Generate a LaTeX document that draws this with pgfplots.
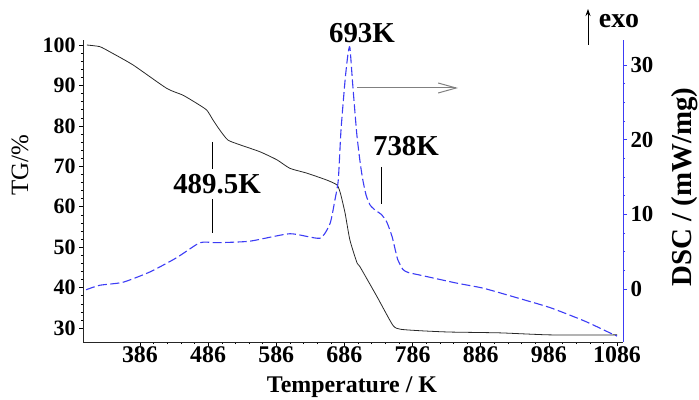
\documentclass[border=0pt]{standalone}
\usepackage{fontspec}
\setmainfont{Liberation Serif}
\usepackage{pgfplots}
\pgfplotsset{compat=1.18}
\usetikzlibrary{arrows.meta}
\definecolor{dscblue}{RGB}{60,60,245}
\definecolor{tgline}{RGB}{40,40,40}
\begin{document}
\begin{tikzpicture}
\path[use as bounding box] (0bp,0bp) rectangle (699bp,400bp);
\begin{axis}[at={(83bp,58bp)}, anchor=south west, scale only axis,
  width=540bp, height=302bp,
  xmin=302.4, xmax=1094.8, ymin=26.54, ymax=101.24,
  axis x line*=bottom, axis y line*=left,
  xtick={386,486,...,1086}, ytick={30,40,...,100},
  minor x tick num=4, minor y tick num=4,
  tick align=outside, major tick length=4bp, minor tick length=2bp,
  /pgf/number format/assume math mode=true,
  /pgf/number format/set thousands separator={},
  xticklabel style={font=\fontsize{24}{24}\selectfont\bfseries, yshift=3bp},
  yticklabel style={font=\fontsize{22}{22}\selectfont\bfseries},
  axis line style={black!85, line width=0.8pt},
  every tick/.style={black, line width=0.5pt},
]
\addplot[tgline, line width=0.8pt, smooth, tension=0.35] coordinates {
(308,100) (327,99.6) (342,98.3) (376,95.05) (425,89.3) (449,87.6) (469,85.6)
(484,83.9) (493,81.5) (503,79) (515,76.5) (533,75.3) (562,73.6) (587,71.6)
(606,69.5) (631,68.3) (660,66.6) (675,65.4) (680,63.4) (687,58.4) (694,51.8)
(704.5,46.1) (709,45.1) (734,37.7) (757,30.7) (768,29.7) (800,29.3) (841,29.0)
(914,28.8) (988,28.3) (1086,28.3)
};
\end{axis}
\begin{axis}[at={(83bp,58bp)}, anchor=south west, scale only axis,
  width=540bp, height=302bp,
  xmin=302.4, xmax=1094.8, ymin=-7.10, ymax=33.35,
  axis x line=none, axis y line*=right,
  ytick={0,10,20,30}, minor y tick num=3,
  tick align=outside, major tick length=4bp, minor tick length=2bp,
  /pgf/number format/assume math mode=true,
  yticklabel style={font=\fontsize{23}{23}\selectfont\bfseries, black},
  y axis line style={dscblue, line width=0.8pt},
  every tick/.style={dscblue, line width=0.5pt},
]
\addplot[dscblue, line width=1.1pt, dash pattern=on 9bp off 3.5bp, smooth, tension=0.35] coordinates {
(307,-0.1) (327,0.5) (361,0.9) (401,2.3) (440,4.2) (474,6.2) (499,6.2)
(547,6.4) (606,7.4) (650,6.8) (665,8.8) (672,11.9) (677,14.6) (681,21.3)
(687,28) (691,31.3) (694,32.4) (698,27.6) (704,20.9) (709,17) (713,14.6)
(718,12.5) (724,11.2) (732,10.5) (740,10) (748,9) (756,7) (764,4) (772,2.6)
(780,2.2) (800,1.8) (850,0.8) (890,0.1) (940,-1.2) (988,-2.5) (1036,-4.2)
(1060,-5.2) (1076,-5.9) (1086,-6.3)
};
\end{axis}
% annotations
\draw[black, line width=0.7pt] (212bp,258bp) -- (212bp,231bp);
\draw[black, line width=0.7pt] (212bp,201bp) -- (212bp,167bp);
\draw[black, line width=0.7pt] (381bp,233bp) -- (381bp,196bp);
\node[font=\fontsize{29}{29}\selectfont\bfseries] at (217bp,216bp) {489.5K};
\node[font=\fontsize{29}{29}\selectfont\bfseries] at (362bp,367bp) {693K};
\node[font=\fontsize{29}{29}\selectfont\bfseries] at (406bp,254bp) {738K};
\draw[gray, line width=1pt, -{Straight Barb[length=18bp, width=10bp]}] (357bp,312bp) -- (458bp,312bp);
\draw[black, line width=0.8pt, -{Stealth[length=7bp, width=5bp]}] (588bp,355bp) -- (588bp,391bp);
\node[font=\fontsize{28}{28}\selectfont\bfseries] at (619bp,379bp) {exo};
\node[font=\fontsize{24}{24}\selectfont\bfseries] at (352bp,13bp) {Temperature / K};
\node[font=\fontsize{25}{25}\selectfont, rotate=90] at (20bp,235bp) {TG/\%};
\node[font=\fontsize{29}{29}\selectfont\bfseries, rotate=90] at (685bp,213bp) {DSC / (mW/mg)};
\end{tikzpicture}
\end{document}
